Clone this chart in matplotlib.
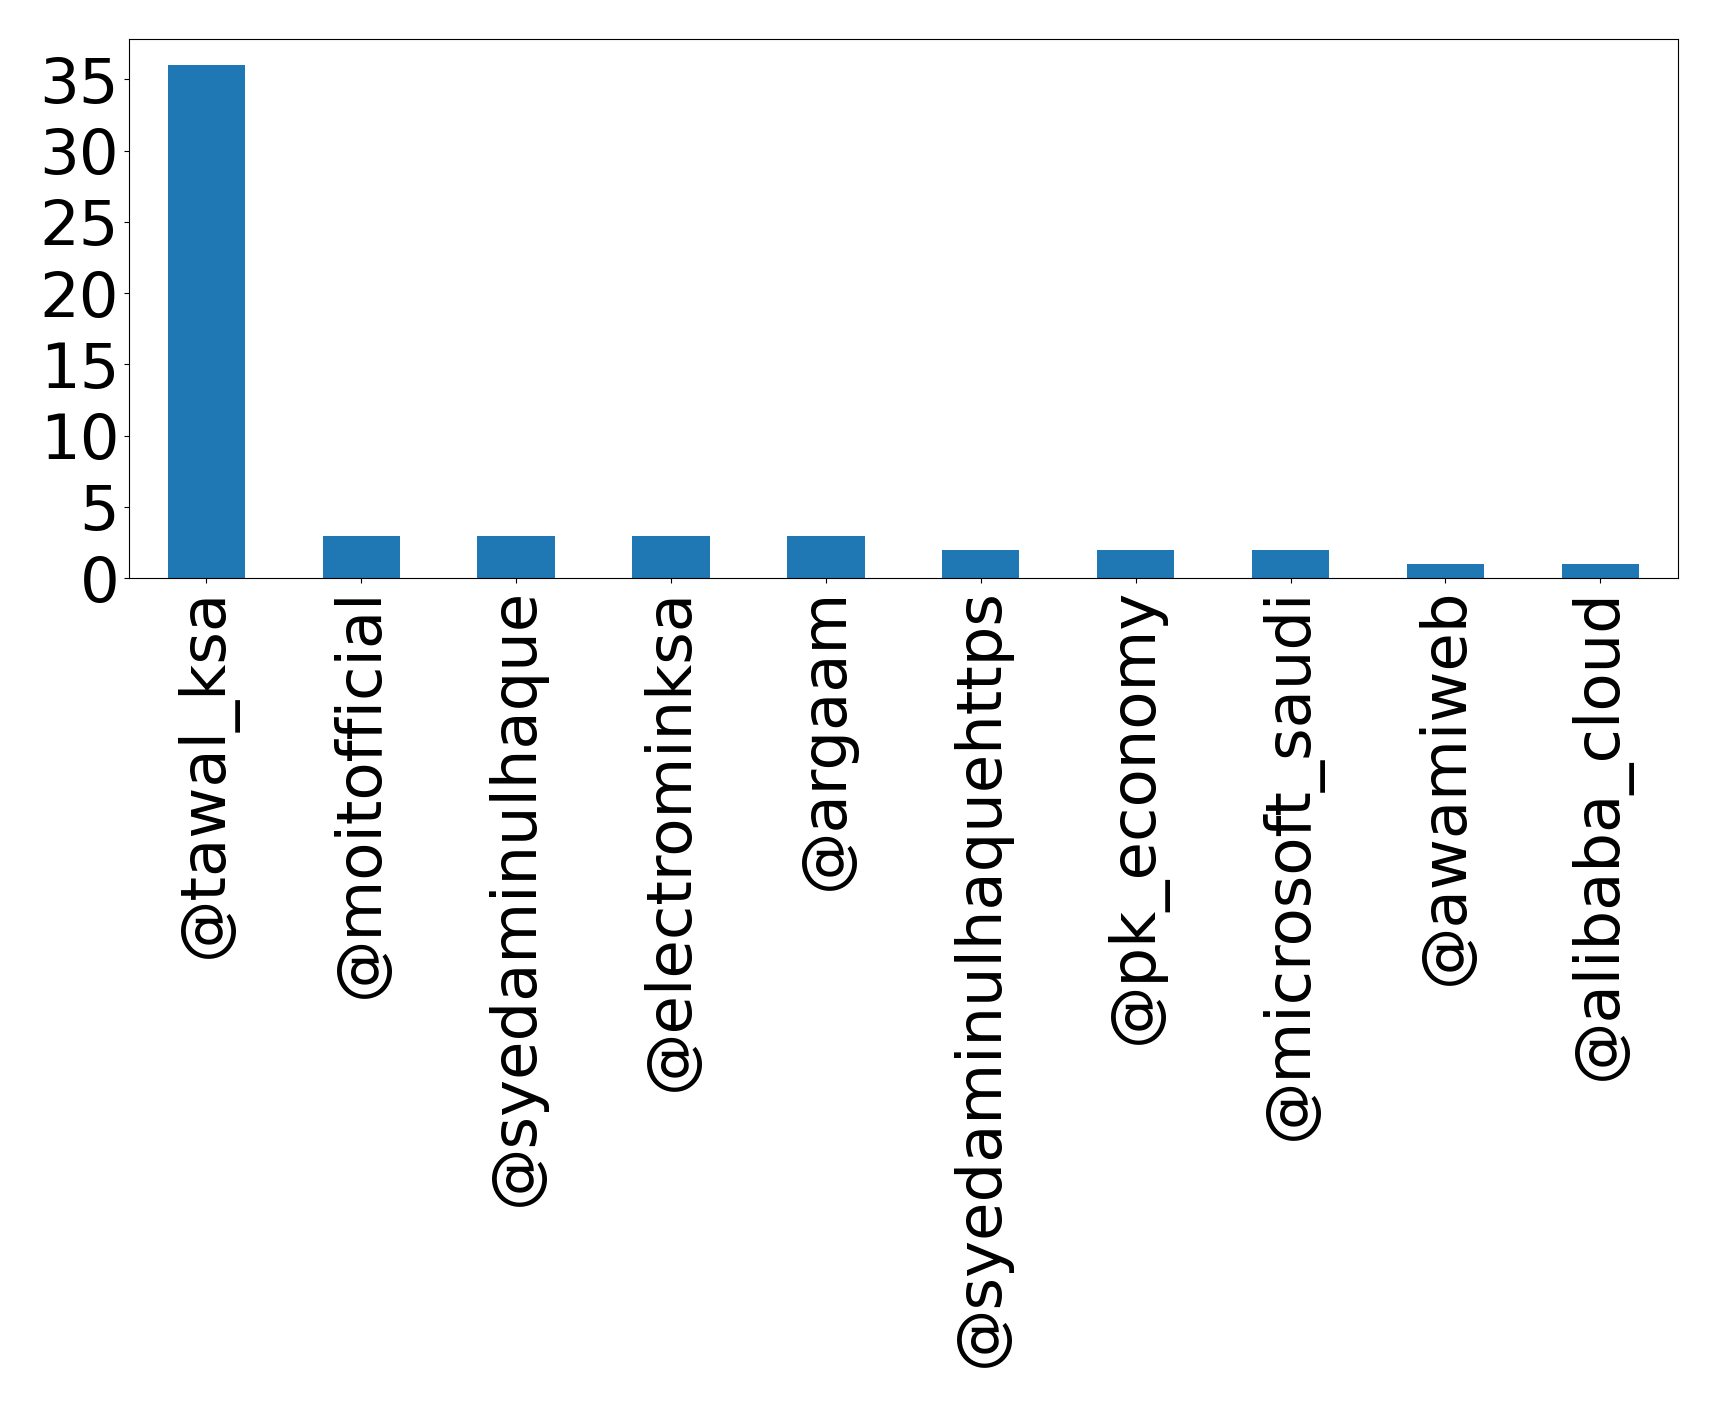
import matplotlib
matplotlib.use('Agg')
import matplotlib.pyplot as plt

# handles and how many times they were mentioned
handles = ['@tawal_ksa', '@moitofficial', '@syedaminulhaque', '@electrominksa',
           '@argaam', '@syedaminulhaquehttps', '@pk_economy', '@microsoft_saudi',
           '@awamiweb', '@alibaba_cloud']
counts = [36, 3, 3, 3, 3, 2, 2, 2, 1, 1]
yticks = [0, 5, 10, 15, 20, 25, 30, 35]

fig = plt.figure(figsize=(17.19, 14.07), dpi=100)
ax = fig.add_axes([0.075, 0.589, 0.901, 0.383])

x = range(len(handles))
ax.bar(x, counts, width=0.5, color='#1f77b4')
ax.set_xlim(-0.5, len(handles) - 0.5)
ax.set_ylim(0, 37.8)
ax.set_yticks(yticks)
ax.set_xticks(list(x))
ax.set_xticklabels(handles, rotation=90, fontsize=45)
ax.tick_params(axis='y', labelsize=45)

fig.savefig('out.png', dpi=100)
